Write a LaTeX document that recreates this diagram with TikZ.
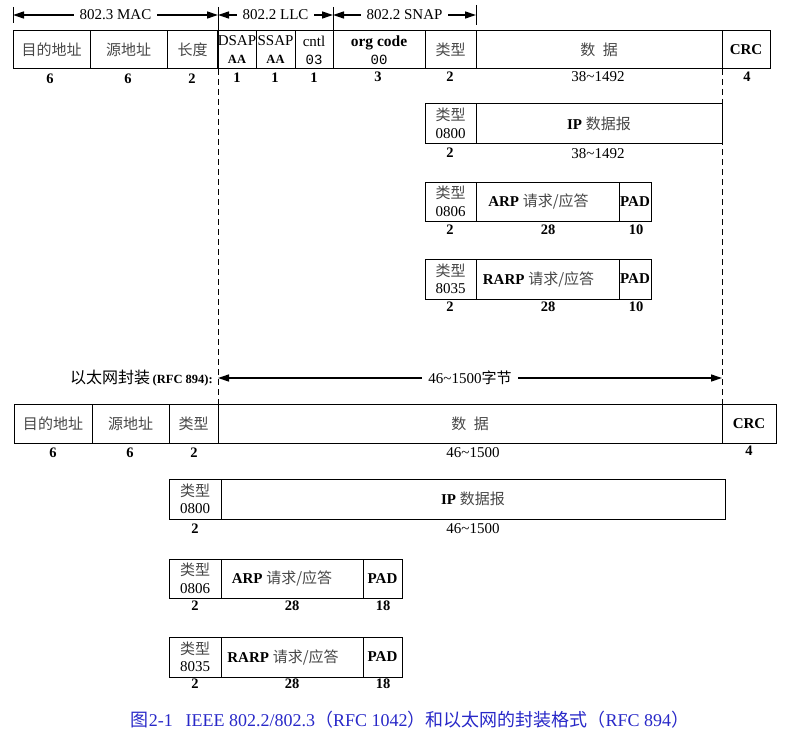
\documentclass[tikz,border=0pt]{standalone}
\usepackage{fontspec}
\setmainfont{Liberation Serif}
\setmonofont{Liberation Mono}
\newfontfamily\cjk{Noto Sans CJK SC}
\usetikzlibrary{arrows.meta}
\definecolor{capblue}{RGB}{40,40,200}
\newcommand\zh[1]{{\cjk\color{black!72}#1}}
\newcommand\zhb[1]{{\cjk #1}}
\newcommand\fcell[7][]{\node[cell,minimum width={(#4-#3)*1pt},minimum height={(#6-#5)*1pt},#1] (#2) at ({(#3+#4)/2},{(#5+#6)/2}) {#7};}
\tikzset{
  cell/.style={draw, line width=1pt, inner sep=0pt, outer sep=0pt, align=center,
    font=\fontsize{15}{18}\selectfont},
  two/.style={font=\fontsize{15}{17.5}\selectfont},
  num/.style={font=\bfseries\fontsize{14.5}{16}\selectfont, inner sep=0pt},
  rng/.style={font=\fontsize{15}{16}\selectfont, inner sep=0pt},
  dimline/.style={line width=1.3pt, {Triangle[length=11pt,width=7pt]}-{Triangle[length=11pt,width=7pt]}},
  dimlab/.style={fill=white, inner xsep=6pt, inner ysep=1pt, font=\fontsize{15}{17}\selectfont},
  tickline/.style={line width=1pt},
  dline/.style={line width=1pt, dash pattern=on 6pt off 4pt},
}
\begin{document}
\begin{tikzpicture}[x=1pt,y=-1pt]
\path[use as bounding box] (0,0) rectangle (808,749);

% ---------- header dimension lines ----------
\coordinate (h0) at (13,15);
\coordinate (h1) at (218,15);
\coordinate (h2) at (333,15);
\coordinate (h3) at (476,15);
\draw[tickline] (13,7) -- (13,23);
\draw[tickline] (218,7) -- (218,31);
\draw[tickline] (333,7) -- (333,31);
\draw[tickline] (476,5) -- (476,25);
\draw[dimline] (h0) -- (h1) node[midway,dimlab] (lmac) {802.3 MAC};
\draw[dimline] (h1) -- (h2) node[midway,dimlab] (lllc) {802.2 LLC};
\draw[dimline] (h2) -- (h3) node[midway,dimlab] (lsnap) {802.2 SNAP};

% ---------- IEEE 802.2/802.3 top row ----------
\fcell{a1}{13}{90}{31}{69}{\zh{目的地址}}
\fcell{a2}{90}{167}{31}{69}{\zh{源地址}}
\fcell{a3}{167}{218}{31}{69}{\zh{长度}}
\fcell{a4}{218}{256}{31}{69}{DSAP\\{\bfseries\fontsize{12.5}{14}\selectfont AA}}
\fcell{a5}{256}{295}{31}{69}{SSAP\\{\bfseries\fontsize{12.5}{14}\selectfont AA}}
\fcell{a6}{295}{333}{31}{69}{cntl\\{\ttfamily\fontsize{14}{15}\selectfont 03}}
\fcell{a7}{333}{425}{31}{69}{{\bfseries\fontsize{15.5}{18}\selectfont org code}\\{\ttfamily\fontsize{14}{15}\selectfont 00}}
\fcell{a8}{425}{476}{31}{69}{\zh{类型}}
\fcell{a9}{476}{722}{31}{69}{\zh{数\hspace{0.5em}据}}
\fcell{a10}{722}{770}{31}{69}{\bfseries CRC}
\node[num] (na1) at (50,79) {6};
\node[num] (na2) at (128,79) {6};
\node[num] (na3) at (192,79) {2};
\node[num] (na4) at (237,78) {1};
\node[num] (na5) at (275,78) {1};
\node[num] (na6) at (314,78) {1};
\node[num] (na7) at (378,77) {3};
\node[num] (na8) at (450,77) {2};
\node[rng] (na9) at (598,77) {38\textasciitilde1492};
\node[num] (na10) at (747,77) {4};

% top IP
\fcell[two]{c1}{425}{476}{104}{143}{\zh{类型}\\0800}
\fcell{c2}{476}{722}{104}{143}{{\bfseries IP} \zh{数据报}}
\node[num] (nc1) at (450,153) {2};
\node[rng] (nc2) at (598,154) {38\textasciitilde1492};

% top ARP
\fcell[two]{d1}{425}{476}{182}{221}{\zh{类型}\\0806}
\fcell{d2}{476}{619}{182}{221}{\hspace*{-18pt}{\bfseries ARP} \zh{请求/应答}}
\fcell{d3}{619}{651}{182}{221}{\bfseries PAD}
\node[num] (nd1) at (450,230) {2};
\node[num] (nd2) at (548,230) {28};
\node[num] (nd3) at (636,230) {10};

% top RARP
\fcell[two]{e1}{425}{476}{259}{299}{\zh{类型}\\8035}
\fcell{e2}{476}{619}{259}{299}{\hspace*{-18pt}{\bfseries RARP} \zh{请求/应答}}
\fcell{e3}{619}{651}{259}{299}{\bfseries PAD}
\node[num] (ne1) at (450,307) {2};
\node[num] (ne2) at (548,307) {28};
\node[num] (ne3) at (636,307) {10};

% ---------- Ethernet encapsulation ----------
\node[anchor=east, inner sep=0pt] (ethlab) at (213,378)
  {{\cjk\fontsize{16}{18}\selectfont 以太网封装} {\bfseries\fontsize{12.5}{14}\selectfont (RFC 894):}};
\coordinate (g1) at (218,378);
\coordinate (g2) at (722,378);
\draw[dimline] (g1) -- (g2) node[midway,dimlab] (l46) {46\textasciitilde1500\zhb{字节}};

\fcell{b1}{14}{92}{404}{443}{\zh{目的地址}}
\fcell{b2}{92}{169}{404}{443}{\zh{源地址}}
\fcell{b3}{169}{218}{404}{443}{\zh{类型}}
\fcell{b4}{218}{722}{404}{443}{\zh{数\hspace{0.5em}据}}
\fcell{b5}{722}{776}{404}{443}{\bfseries CRC}
\node[num] (nb1) at (53,453) {6};
\node[num] (nb2) at (130,453) {6};
\node[num] (nb3) at (194,453) {2};
\node[rng] (nb4) at (473,453) {46\textasciitilde1500};
\node[num] (nb5) at (749,451) {4};

% bottom IP
\fcell[two]{f1}{169}{221}{479}{519}{\zh{类型}\\0800}
\fcell{f2}{221}{725}{479}{519}{{\bfseries IP} \zh{数据报}}
\node[num] (nf1) at (195,529) {2};
\node[rng] (nf2) at (473,529) {46\textasciitilde1500};

% bottom ARP
\fcell[two]{k1}{169}{221}{559}{598}{\zh{类型}\\0806}
\fcell{k2}{221}{363}{559}{598}{\hspace*{-20pt}{\bfseries ARP} \zh{请求/应答}}
\fcell{k3}{363}{402}{559}{598}{\bfseries PAD}
\node[num] (nk1) at (195,606) {2};
\node[num] (nk2) at (292,606) {28};
\node[num] (nk3) at (383,606) {18};

% bottom RARP
\fcell[two]{m1}{169}{221}{637}{677}{\zh{类型}\\8035}
\fcell{m2}{221}{363}{637}{677}{\hspace*{-18pt}{\bfseries RARP} \zh{请求/应答}}
\fcell{m3}{363}{402}{637}{677}{\bfseries PAD}
\node[num] (nm1) at (195,684) {2};
\node[num] (nm2) at (292,684) {28};
\node[num] (nm3) at (383,684) {18};

% ---------- dashed guide lines ----------
\draw[dline] (a3.south east) -- (b3.north east);
\draw[dline] (a10.south west) -- (b5.north west);

% ---------- caption ----------
\node[text=capblue, inner sep=0pt, font=\fontsize{18}{20}\selectfont] (cap) at (410,720)
  {\zhb{图}2-1\hspace{0.7em}IEEE 802.2/802.3\zhb{（}RFC 1042\zhb{）和以太网的封装格式（}RFC 894\zhb{）}};
\end{tikzpicture}
\end{document}
